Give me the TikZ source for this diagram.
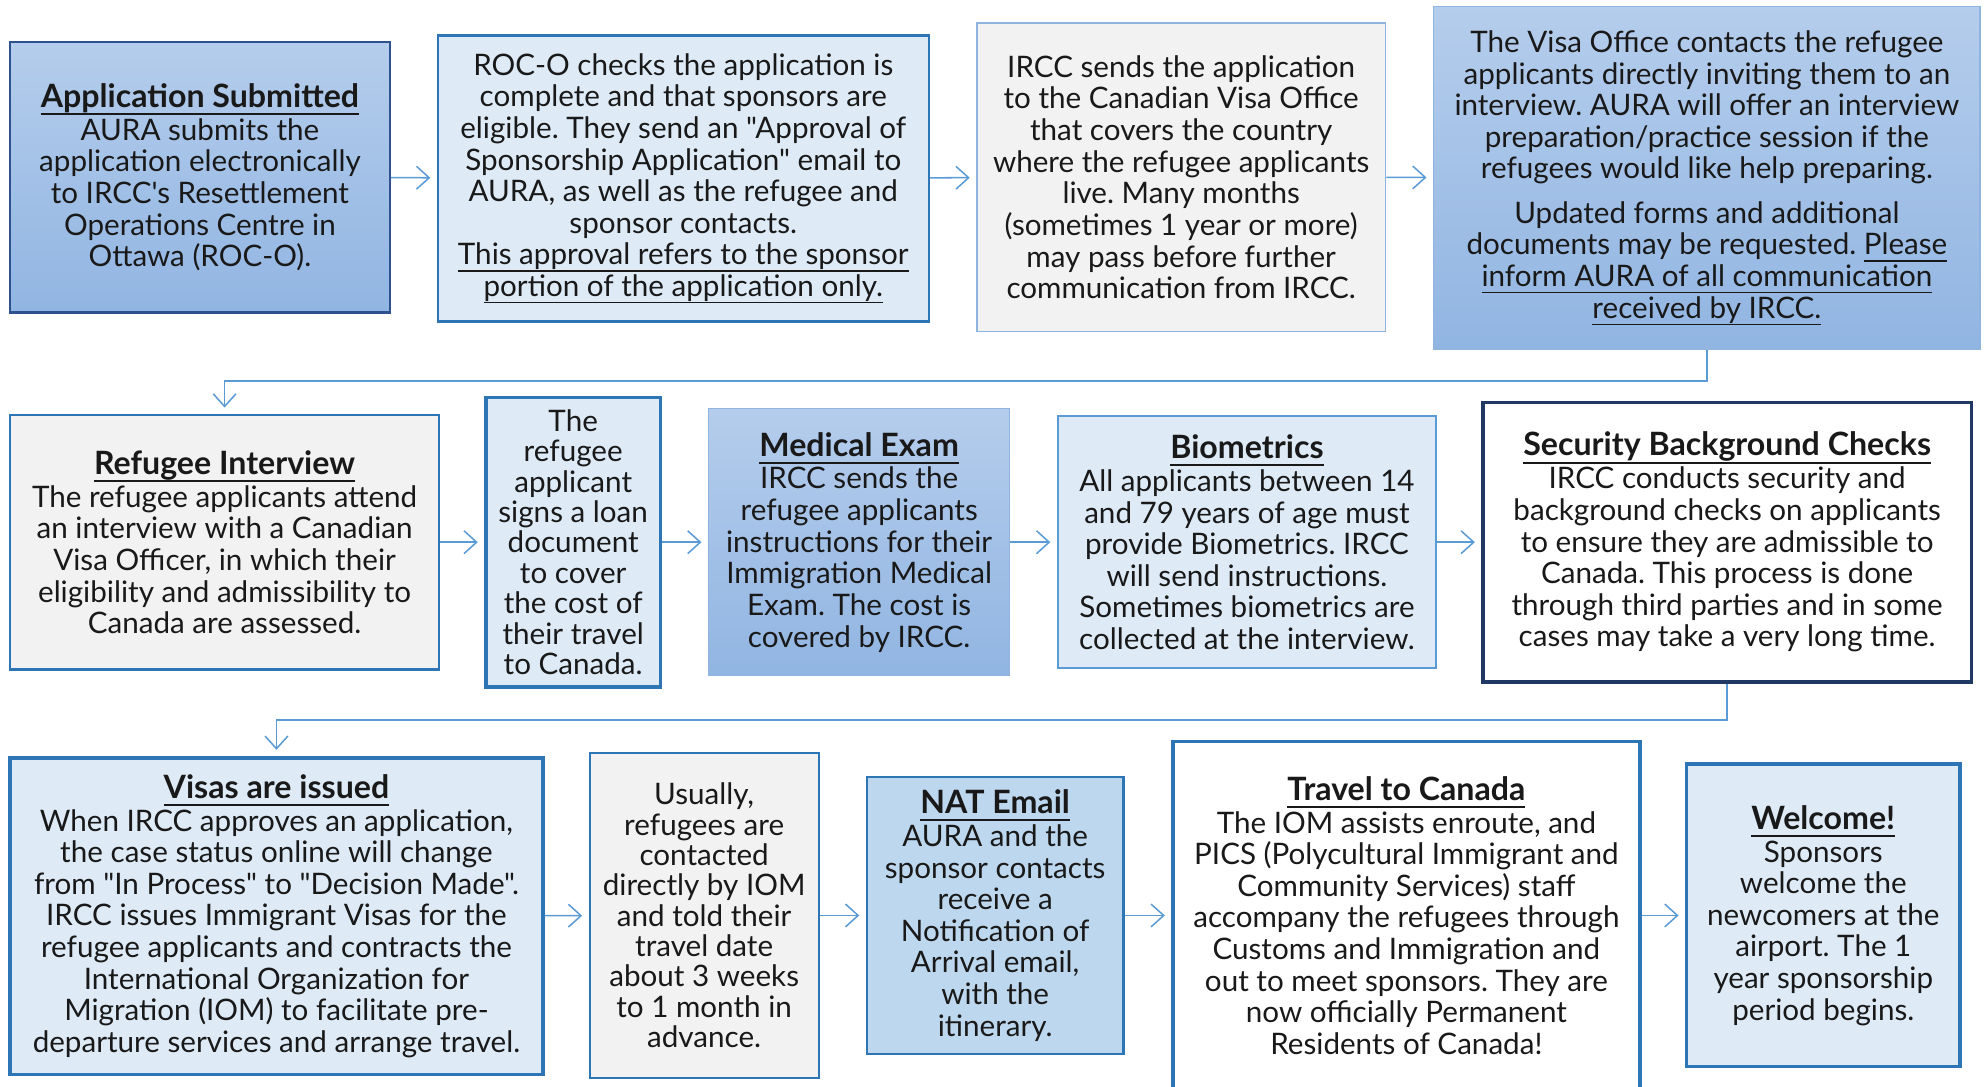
\documentclass[tikz,border=0pt]{standalone}
\usepackage{fontspec}
\setmainfont{Lato}[Ligatures=TeXOff]
\frenchspacing
\usetikzlibrary{arrows.meta}
\definecolor{aura_pale}{RGB}{222,235,247}
\definecolor{aura_grey}{RGB}{242,242,242}
\definecolor{aura_mid}{RGB}{189,215,238}
\definecolor{aura_top}{RGB}{181,205,236}
\definecolor{aura_bot}{RGB}{145,181,226}
\definecolor{aura_line}{RGB}{46,117,182}
\definecolor{aura_sky}{RGB}{143,180,222}
\definecolor{aura_navy}{RGB}{31,56,100}
\definecolor{aura_dark}{RGB}{47,82,143}
\definecolor{aura_arrow}{RGB}{91,155,213}
\newcommand{\ulpart}[1]{\setbox0\hbox{#1}\rlap{\rule[-2.7pt]{\wd0}{0.55pt}}\box0}
\newcommand{\heading}[1]{{\fontsize{12.7}{12.5}\selectfont\bfseries\setbox0\hbox{#1}\rlap{\rule[-3pt]{\wd0}{0.7pt}}\box0}}
\tikzstyle{box}=[rectangle,align=center,inner sep=0pt,text=black!90,
  font=\fontsize{11.7}{12.5}\selectfont]
\tikzstyle{gradb}=[box,top color=aura_top,bottom color=aura_bot]
\tikzstyle{paleb}=[box,fill=aura_pale,draw=aura_line,line width=0.9pt]
\tikzstyle{greyb}=[box,fill=aura_grey,draw=aura_line,line width=0.9pt]
\tikzstyle{flow}=[draw=aura_arrow,line width=0.6pt,shorten >=2.5pt,
  -{Straight Barb[length=5pt,width=9pt]}]

\begin{document}
\begin{tikzpicture}[x=0.5pt,y=-0.5pt]
        \useasboundingbox (0,0) rectangle (1568,859);
        % first row
        \node [style=gradb,draw=aura_dark,line width=0.9pt,minimum width=150pt,minimum height=107pt] (a1) at (158,140)
          {\heading{Application Submitted}\\[0.5pt] AURA submits the\\ application electronically\\ to IRCC's Resettlement\\ Operations Centre in\\ Ottawa (ROC-O).};
        \node [style=paleb,minimum width=194pt,minimum height=113pt] (a2) at (540,141)
          {ROC-O checks the application is\\ complete and that sponsors are\\ eligible. They send an "Approval of\\ Sponsorship Application" email to\\ AURA, as well as the refugee and\\ sponsor contacts.\\ \ulpart{This approval refers to the sponsor}\\ \ulpart{portion of the application only.}};
        \node [style=greyb,draw=aura_sky,line width=0.6pt,minimum width=161.5pt,minimum height=122pt] (a3) at (933.5,140)
          {IRCC sends the application\\ to the Canadian Visa Office\\ that covers the country\\ where the refugee applicants\\ live. Many months\\ (sometimes 1 year or more)\\ may pass before further\\ communication from IRCC.};
        \node [style=gradb,draw=aura_sky,line width=0.6pt,minimum width=216pt,minimum height=135.5pt] (a4) at (1349,140.5)
          {The Visa Office contacts the refugee\\ applicants directly inviting them to an\\ interview. AURA will offer an interview\\ preparation/practice session if the\\ refugees would like help preparing.\\[5pt] Updated forms and additional\\ documents may be requested. \ulpart{Please}\\ \ulpart{inform AURA of all communication}\\ \ulpart{received by IRCC.}};
        % second row
        \node [style=greyb,minimum width=169.5pt,minimum height=100.5pt] (b1) at (177.5,428.5)
          {\heading{Refugee Interview}\\[0.5pt] The refugee applicants attend\\ an interview with a Canadian\\ Visa Officer, in which their\\ eligibility and admissibility to\\ Canada are assessed.};
        \node [style=paleb,line width=1.4pt,font=\fontsize{11.7}{12}\selectfont,minimum width=69pt,minimum height=114.5pt] (b2) at (453,428.5)
          {The\\ refugee\\ applicant\\ signs a loan\\ document\\ to cover\\ the cost of\\ their travel\\ to Canada.};
        \node [style=gradb,draw=aura_sky,line width=0.6pt,minimum width=119pt,minimum height=105.5pt] (b3) at (679,428.5)
          {\heading{Medical Exam}\\[0.5pt] IRCC sends the\\ refugee applicants\\ instructions for their\\ Immigration Medical\\ Exam. The cost is\\ covered by IRCC.};
        \node [style=paleb,draw=aura_arrow,minimum width=149.5pt,minimum height=99.5pt] (b4) at (985.5,428.5)
          {\heading{Biometrics}\\[0.5pt] All applicants between 14\\ and 79 years of age must\\ provide Biometrics. IRCC\\ will send instructions.\\ Sometimes biometrics are\\ collected at the interview.};
        \node [style=box,fill=white,draw=aura_navy,line width=1.4pt,minimum width=193pt,minimum height=110.5pt] (b5) at (1365,428.5)
          {\heading{Security Background Checks}\\[0.5pt] IRCC conducts security and\\ background checks on applicants\\ to ensure they are admissible to\\ Canada. This process is done\\ through third parties and in some\\ cases may take a very long time.};
        % third row
        \node [style=paleb,line width=1.4pt,minimum width=210.5pt,minimum height=125pt] (c1) at (218.5,724)
          {\heading{Visas are issued}\\[0.5pt] When IRCC approves an application,\\ the case status online will change\\ from "In Process" to "Decision Made".\\ IRCC issues Immigrant Visas for the\\ refugee applicants and contracts the\\ International Organization for\\ Migration (IOM) to facilitate pre-\\ departure services and arrange travel.};
        \node [style=greyb,font=\fontsize{11.7}{12}\selectfont,minimum width=90.5pt,minimum height=128.5pt] (c2) at (556.5,723.5)
          {Usually,\\ refugees are\\ contacted\\ directly by IOM\\ and told their\\ travel date\\ about 3 weeks\\ to 1 month in\\ advance.};
        \node [style=box,fill=aura_mid,draw=aura_line,line width=0.9pt,minimum width=101.5pt,minimum height=109.5pt] (c3) at (786.5,723.5)
          {\heading{NAT Email}\\[0.5pt] AURA and the\\ sponsor contacts\\ receive a\\ Notification of\\ Arrival email,\\ with the\\ itinerary.};
        \node [style=box,fill=white,draw=aura_line,line width=1.4pt,minimum width=184.5pt,minimum height=137.5pt] (c4) at (1111.5,723.5)
          {\heading{Travel to Canada}\\[0.5pt] The IOM assists enroute, and\\ PICS (Polycultural Immigrant and\\ Community Services) staff\\ accompany the refugees through\\ Customs and Immigration and\\ out to meet sponsors. They are\\ now officially Permanent\\ Residents of Canada!};
        \node [style=paleb,line width=1.4pt,minimum width=108pt,minimum height=119.5pt] (c5) at (1441,723.5)
          {\heading{Welcome!}\\[0.5pt] Sponsors\\ welcome the\\ newcomers at the\\ airport. The 1\\ year sponsorship\\ period begins.};
        % bends between rows
        \coordinate (turn_a) at (1349,301);
        \coordinate (turn_b) at (1365,569);
        \draw [style=flow] (a1) to (a2);
        \draw [style=flow] (a2) to (a3);
        \draw [style=flow] (a3) to (a4);
        \draw [style=flow] (a4) -- (turn_a) -| (b1);
        \draw [style=flow] (b1) to (b2);
        \draw [style=flow] (b2) to (b3);
        \draw [style=flow] (b3) to (b4);
        \draw [style=flow] (b4) to (b5);
        \draw [style=flow] (b5) -- (turn_b) -| (c1);
        \draw [style=flow] (c1) to (c2);
        \draw [style=flow] (c2) to (c3);
        \draw [style=flow] (c3) to (c4);
        \draw [style=flow] (c4) to (c5);
    \end{tikzpicture}
\end{document}
